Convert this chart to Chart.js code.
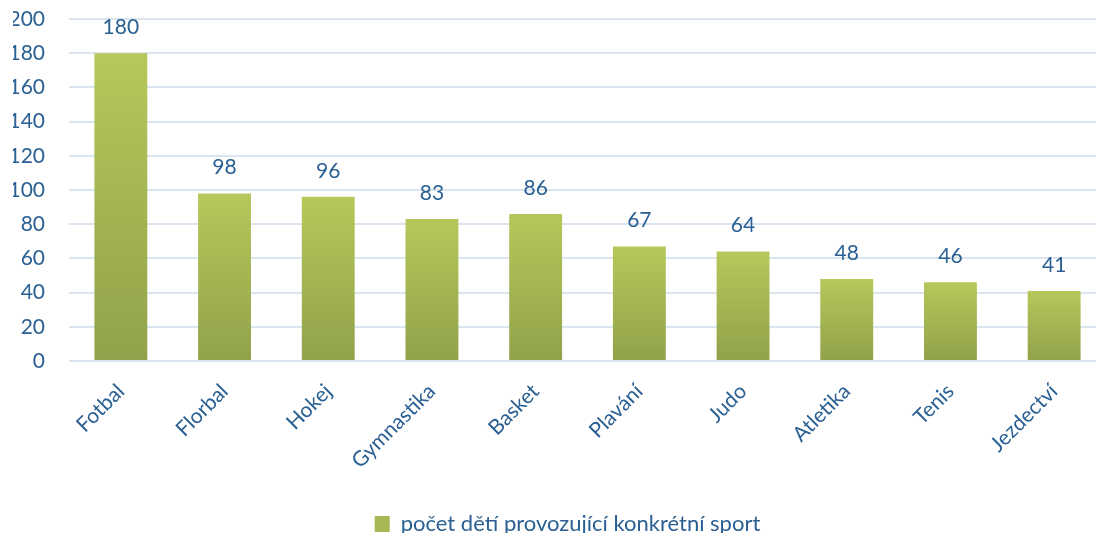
<!DOCTYPE html>
<html>
<head>
<meta charset="utf-8">
<script src="https://cdn.jsdelivr.net/npm/chart.js@4.4.0/dist/chart.umd.min.js"></script>
<style>
  html, body { margin: 0; padding: 0; background: #fff; overflow: hidden; }
  #wrap { position: absolute; left: 0; top: 0; width: 1140px; height: 545px; }
</style>
</head>
<body>
<div id="wrap"><canvas id="graf"></canvas></div>
<script>
const sporty = ["Fotbal", "Florbal", "Hokej", "Gymnastika", "Basket", "Plavání", "Judo", "Atletika", "Tenis", "Jezdectví"];
const pocty = [180, 98, 96, 83, 86, 67, 64, 48, 46, 41];
const popisek = "počet dětí provozující konkrétní sport";

const modra = "#2a6093";
const pismo = { family: "Lato", size: 21 };

// kazdy sloupec ma vlastni prechod shora dolu
const prechodSloupcu = {
    id: "prechodSloupcu",
    beforeDatasetsDraw(chart) {
        const ctx = chart.ctx;
        chart.getDatasetMeta(0).data.forEach(el => {
            const g = ctx.createLinearGradient(0, el.y, 0, el.base);
            g.addColorStop(0, "#b6c75b");
            g.addColorStop(1, "#91a34a");
            el.options = Object.assign({}, el.options, { backgroundColor: g });
        });
    }
};

const hodnotyNad = {
    id: "hodnotyNad",
    afterDatasetsDraw(chart) {
        const ctx = chart.ctx;
        ctx.save();
        ctx.font = "21px Lato";
        ctx.fillStyle = modra;
        ctx.textAlign = "center";
        ctx.textBaseline = "middle";
        chart.getDatasetMeta(0).data.forEach((el, i) => {
            ctx.fillText(pocty[i], el.x, el.y - 26);
        });
        ctx.restore();
    }
};

// legenda je v originale trochu vpravo od stredu
const posunLegendy = {
    id: "posunLegendy",
    afterLayout(chart) {
        chart.legend.left += 8;
        chart.legend.right += 8;
    }
};

const data = {
    labels: sporty,
    datasets: [{
        label: popisek,
        data: pocty,
        backgroundColor: "#a5b853",
        categoryPercentage: 1,
        barPercentage: 0.51
    }]
};

const config = {
    type: "bar",
    data: data,
    options: {
        responsive: true,
        maintainAspectRatio: false,
        animation: false,
        layout: { padding: { left: 13, right: 34, top: 19, bottom: 0 } },
        scales: {
            x: {
                grid: { display: false },
                border: { display: false },
                ticks: {
                    color: modra,
                    font: pismo,
                    maxRotation: 45,
                    minRotation: 45,
                    padding: 10
                },
                afterFit(scale) {
                    scale.height = 142;
                    scale.paddingLeft = 0;
                    scale.paddingRight = 0;
                }
            },
            y: {
                min: 0,
                max: 200,
                grid: { color: "#dbe5ef", lineWidth: 2, drawTicks: false },
                border: { display: false },
                ticks: {
                    stepSize: 20,
                    color: modra,
                    font: pismo,
                    padding: 24
                },
                afterFit(scale) {
                    scale.width = 56;
                    scale.paddingTop = 0;
                    scale.paddingBottom = 0;
                }
            }
        },
        plugins: {
            legend: {
                position: "bottom",
                labels: {
                    color: modra,
                    font: { family: "Lato", size: 22 },
                    boxWidth: 15,
                    boxHeight: 16,
                    padding: 10
                }
            },
            tooltip: { enabled: false }
        }
    },
    plugins: [prechodSloupcu, hodnotyNad, posunLegendy]
};

const graf = new Chart(document.querySelector("#graf"), config);
</script>
</body>
</html>
